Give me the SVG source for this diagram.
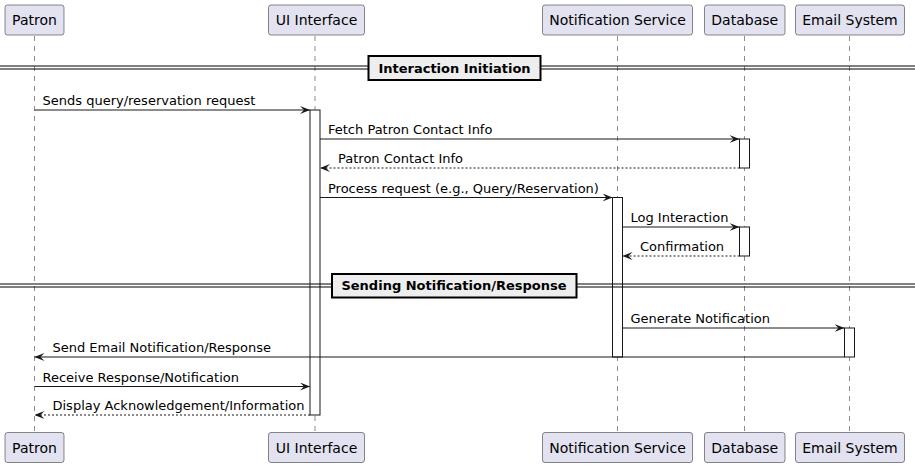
<svg xmlns="http://www.w3.org/2000/svg" width="915" height="468" viewBox="0 0 915 468">
<defs>
<style>
.p rect{fill:#E2E2F0;stroke:#181818;stroke-width:0.5}
.p text{font-family:"DejaVu Sans",sans-serif;font-size:14px;fill:#000;text-anchor:middle}
.life{stroke:#181818;stroke-width:0.5;stroke-dasharray:5 5}
.act{fill:#fff;stroke:#181818;stroke-width:1}
.msg{stroke:#181818;stroke-width:1;fill:none}
.ret{stroke:#181818;stroke-width:1;fill:none;stroke-dasharray:2 2}
.lbl{font-family:"DejaVu Sans",sans-serif;font-size:13px;fill:#000}
.div line{stroke:#000;stroke-width:1}
.div rect{fill:#EEEEEE;stroke:#000;stroke-width:2}
.div text{font-family:"DejaVu Sans",sans-serif;font-size:13px;font-weight:bold;fill:#000;text-anchor:middle}
</style>
<marker id="ah" viewBox="0 0 10 8" refX="10" refY="4" markerWidth="10" markerHeight="8" markerUnits="userSpaceOnUse" orient="auto">
<polygon points="0,0 10,4 0,8 4,4" fill="#181818"/>
</marker>
</defs>
<rect width="915" height="468" fill="#fff"/>
<g id="lifelines">
<line class="life" x1="34.5" y1="36" x2="34.5" y2="432"/>
<line class="life" x1="315" y1="36" x2="315" y2="432"/>
<line class="life" x1="617.5" y1="36" x2="617.5" y2="432"/>
<line class="life" x1="744.5" y1="36" x2="744.5" y2="432"/>
<line class="life" x1="849.5" y1="36" x2="849.5" y2="432"/>
</g>
<g id="activations">
<rect class="act" x="310" y="110" width="10" height="305"/>
<rect class="act" x="739.5" y="139" width="10" height="29"/>
<rect class="act" x="612.5" y="197.5" width="10" height="159.5"/>
<rect class="act" x="739.5" y="227" width="10" height="29"/>
<rect class="act" x="844.5" y="328" width="10" height="29"/>
</g>
<g id="dividers" class="div">
<line x1="0" y1="66" x2="915" y2="66"/>
<line x1="0" y1="69" x2="915" y2="69"/>
<rect x="368.5" y="56" width="172" height="24"/>
<text x="454.5" y="72.5">Interaction Initiation</text>
<line x1="0" y1="284" x2="915" y2="284"/>
<line x1="0" y1="287" x2="915" y2="287"/>
<rect x="332" y="274" width="244.5" height="23.5"/>
<text x="454" y="290">Sending Notification/Response</text>
</g>
<g id="connectors">
<line class="msg" x1="34.5" y1="110" x2="310" y2="110" marker-end="url(#ah)"/>
<text class="lbl" x="42.5" y="105">Sends query/reservation request</text>
<line class="msg" x1="320" y1="139" x2="739.5" y2="139" marker-end="url(#ah)"/>
<text class="lbl" x="328" y="134">Fetch Patron Contact Info</text>
<line class="ret" x1="739.5" y1="168" x2="320" y2="168" marker-end="url(#ah)"/>
<text class="lbl" x="338" y="163">Patron Contact Info</text>
<line class="msg" x1="320" y1="197.5" x2="612.5" y2="197.5" marker-end="url(#ah)"/>
<text class="lbl" x="328" y="192.5">Process request (e.g., Query/Reservation)</text>
<line class="msg" x1="622.5" y1="227" x2="739.5" y2="227" marker-end="url(#ah)"/>
<text class="lbl" x="630.5" y="222">Log Interaction</text>
<line class="ret" x1="739.5" y1="256" x2="622.5" y2="256" marker-end="url(#ah)"/>
<text class="lbl" x="640" y="251">Confirmation</text>
<line class="msg" x1="622.5" y1="328" x2="844.5" y2="328" marker-end="url(#ah)"/>
<text class="lbl" x="630.5" y="323">Generate Notification</text>
<line class="msg" x1="844.5" y1="357" x2="34.5" y2="357" marker-end="url(#ah)"/>
<text class="lbl" x="52.5" y="352">Send Email Notification/Response</text>
<line class="msg" x1="34.5" y1="386.5" x2="310" y2="386.5" marker-end="url(#ah)"/>
<text class="lbl" x="42.5" y="381.5">Receive Response/Notification</text>
<line class="ret" x1="310" y1="415" x2="34.5" y2="415" marker-end="url(#ah)"/>
<text class="lbl" x="52.5" y="410">Display Acknowledgement/Information</text>
</g>
<g id="patron" class="p">
<rect x="5" y="5" width="59" height="30" rx="2.5"/>
<text x="34.5" y="25">Patron</text>
<rect x="5" y="432.5" width="59" height="30" rx="2.5"/>
<text x="34.5" y="452.5">Patron</text>
</g>
<g id="ui" class="p">
<rect x="268.5" y="5" width="96" height="30" rx="2.5"/>
<text x="316.5" y="25">UI Interface</text>
<rect x="268.5" y="432.5" width="96" height="30" rx="2.5"/>
<text x="316.5" y="452.5">UI Interface</text>
</g>
<g id="notification" class="p">
<rect x="542.5" y="5" width="150" height="30" rx="2.5"/>
<text x="617.5" y="25">Notification Service</text>
<rect x="542.5" y="432.5" width="150" height="30" rx="2.5"/>
<text x="617.5" y="452.5">Notification Service</text>
</g>
<g id="database" class="p">
<rect x="704.5" y="5" width="80.5" height="30" rx="2.5"/>
<text x="744.75" y="25">Database</text>
<rect x="704.5" y="432.5" width="80.5" height="30" rx="2.5"/>
<text x="744.75" y="452.5">Database</text>
</g>
<g id="email" class="p">
<rect x="795.5" y="5" width="109" height="30" rx="2.5"/>
<text x="850" y="25">Email System</text>
<rect x="795.5" y="432.5" width="109" height="30" rx="2.5"/>
<text x="850" y="452.5">Email System</text>
</g>
</svg>
